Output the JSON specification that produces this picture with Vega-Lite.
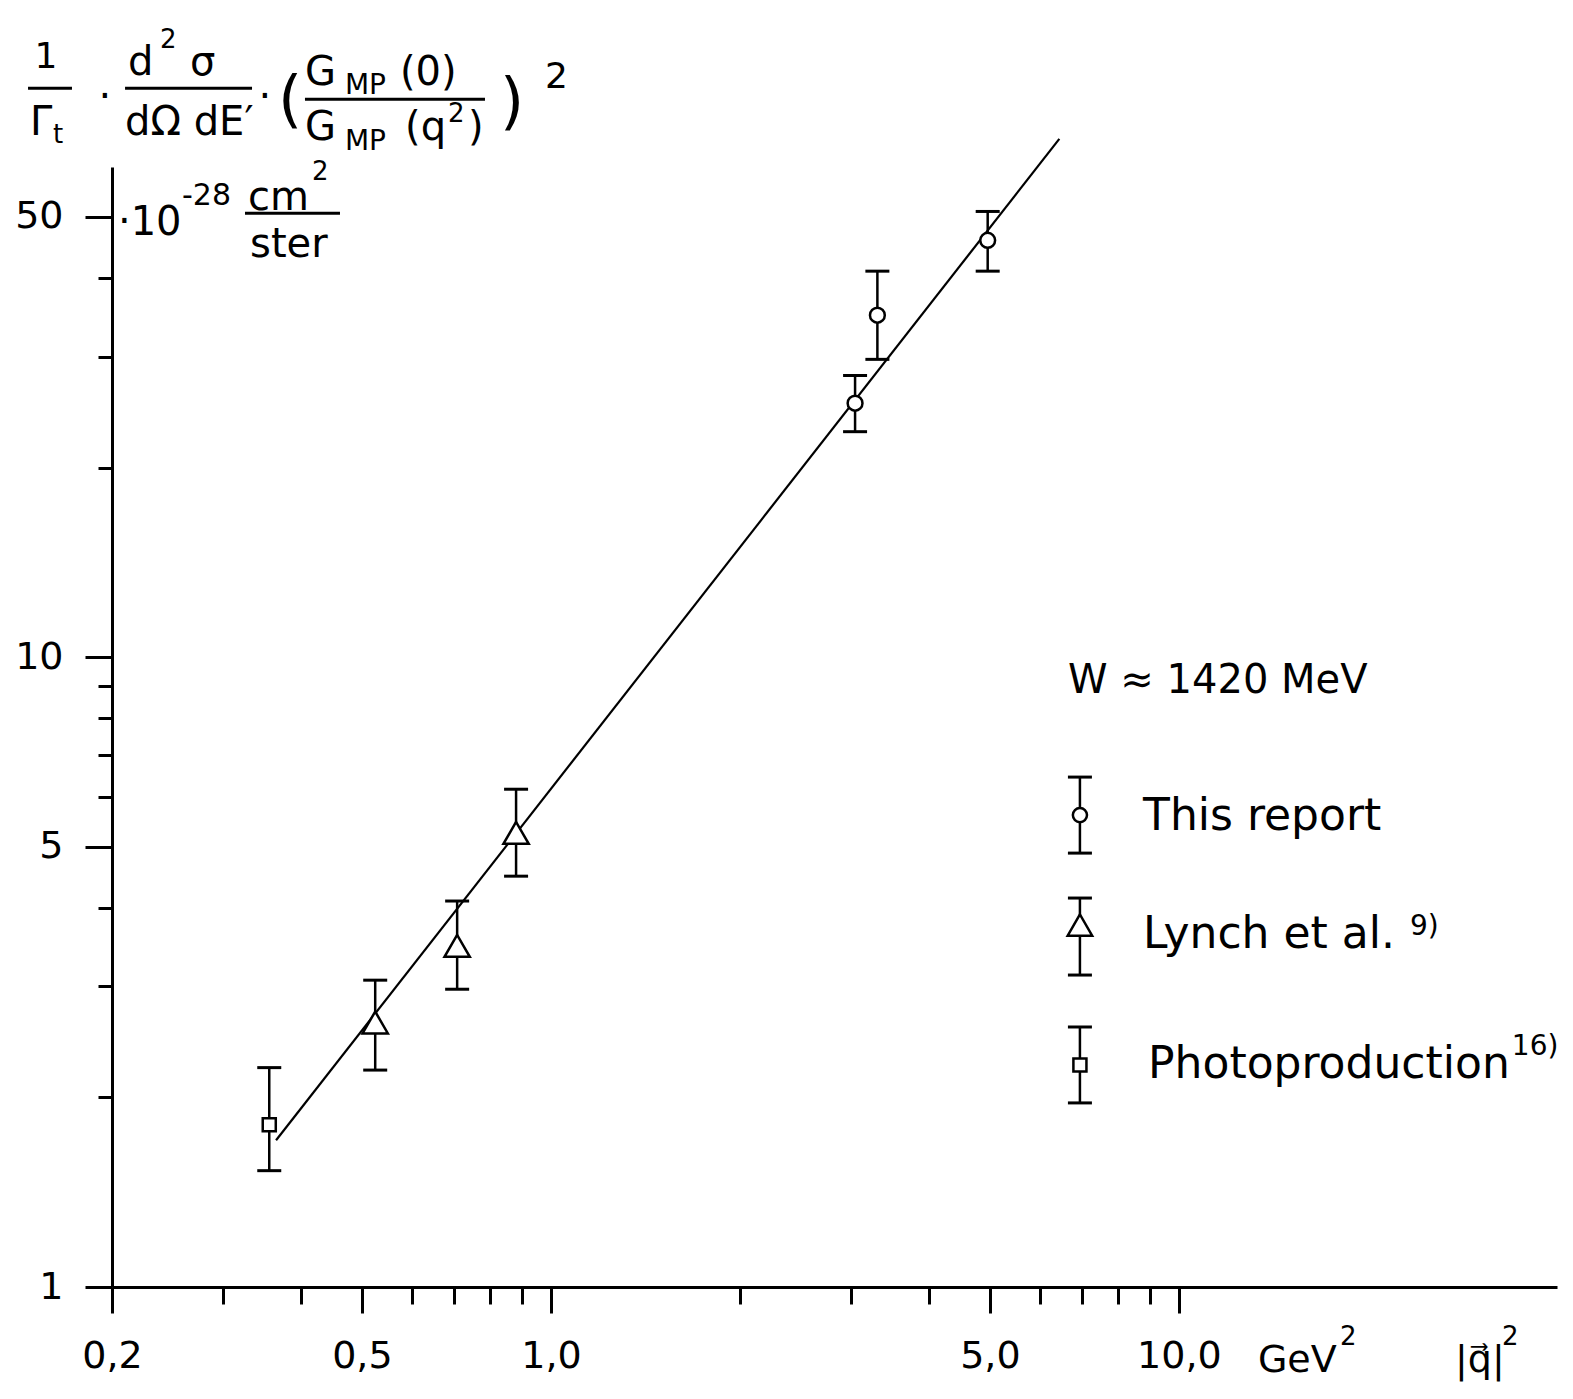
{
  "$schema": "https://vega.github.io/schema/vega-lite/v6.json",
  "width": 1445,
  "height": 1120,
  "autosize": {"type": "none"},
  "padding": {"left": 112, "top": 167, "right": 16, "bottom": 112},
  "background": "white",
  "datasets": {
    "points": [
      {"series": "Photoproduction", "q2": 0.356, "val": 1.81, "lo": 1.53, "hi": 2.23},
      {"series": "Lynch et al.", "q2": 0.525, "val": 2.63, "lo": 2.21, "hi": 3.07},
      {"series": "Lynch et al.", "q2": 0.709, "val": 3.48, "lo": 2.97, "hi": 4.10},
      {"series": "Lynch et al.", "q2": 0.880, "val": 5.26, "lo": 4.49, "hi": 6.17},
      {"series": "This report", "q2": 3.05, "val": 25.3, "lo": 22.8, "hi": 28.0},
      {"series": "This report", "q2": 3.31, "val": 34.9, "lo": 29.7, "hi": 41.0},
      {"series": "This report", "q2": 4.96, "val": 45.9, "lo": 41.0, "hi": 51.0}
    ],
    "fit": [
      {"q2": 0.365, "val": 1.71},
      {"q2": 6.45, "val": 66.5}
    ]
  },
  "data": {"values": [{}]},
  "config": {
    "view": {"stroke": null},
    "font": "DejaVu Sans",
    "axis": {
      "domainColor": "black",
      "domainWidth": 3,
      "tickColor": "black",
      "tickWidth": 3,
      "labelColor": "black",
      "labelFont": "DejaVu Sans",
      "labelFontSize": 38,
      "grid": false
    },
    "text": {"font": "DejaVu Sans", "fontSize": 40, "align": "left", "baseline": "alphabetic", "color": "black"}
  },
  "layer": [
    {
      "data": {"name": "fit"},
      "mark": {"type": "line", "color": "black", "strokeWidth": 2.2, "clip": false},
      "encoding": {
        "x": {
          "field": "q2", "type": "quantitative",
          "scale": {"type": "log", "domain": [0.2, 40], "nice": false},
          "axis": {
            "title": null,
            "values": [0.2, 0.3, 0.4, 0.5, 0.6, 0.7, 0.8, 0.9, 1, 2, 3, 4, 5, 6, 7, 8, 9, 10],
            "labelExpr": "indexof([0.2,0.5,1,5,10], datum.value) >= 0 ? replace(format(datum.value, '.1f'), '.', ',') : ''",
            "tickSize": {"condition": {"test": "indexof([0.2,0.5,1,5,10], datum.value) >= 0", "value": 26}, "value": 17},
            "labelPadding": 24,
            "labelOverlap": false,
            "labelFlush": false
          }
        },
        "y": {
          "field": "val", "type": "quantitative",
          "scale": {"type": "log", "domain": [1, 60], "nice": false},
          "axis": {
            "title": null,
            "values": [1, 2, 3, 4, 5, 6, 7, 8, 9, 10, 20, 30, 40, 50],
            "labelExpr": "indexof([1,5,10,50], datum.value) >= 0 ? toString(datum.value) : ''",
            "tickSize": {"condition": {"test": "indexof([1,5,10,50], datum.value) >= 0", "value": 27}, "value": 14},
            "labelPadding": 22,
            "labelOverlap": false,
            "labelFlush": false
          }
        }
      }
    },
    {
      "data": {"name": "points"},
      "mark": {"type": "rule", "color": "black", "strokeWidth": 2.5},
      "encoding": {
        "x": {"field": "q2", "type": "quantitative"},
        "y": {"field": "lo", "type": "quantitative"},
        "y2": {"field": "hi"}
      }
    },
    {
      "data": {"name": "points"},
      "mark": {"type": "tick", "orient": "horizontal", "color": "black", "size": 24, "thickness": 3, "opacity": 1},
      "encoding": {
        "x": {"field": "q2", "type": "quantitative"},
        "y": {"field": "hi", "type": "quantitative"}
      }
    },
    {
      "data": {"name": "points"},
      "mark": {"type": "tick", "orient": "horizontal", "color": "black", "size": 24, "thickness": 3, "opacity": 1},
      "encoding": {
        "x": {"field": "q2", "type": "quantitative"},
        "y": {"field": "lo", "type": "quantitative"}
      }
    },
    {
      "data": {"name": "points"},
      "transform": [{"filter": "datum.series === 'This report'"}],
      "mark": {"type": "point", "shape": "circle", "size": 220, "filled": true, "fill": "white", "stroke": "black", "strokeWidth": 2.5, "opacity": 1},
      "encoding": {
        "x": {"field": "q2", "type": "quantitative"},
        "y": {"field": "val", "type": "quantitative"}
      }
    },
    {
      "data": {"name": "points"},
      "transform": [{"filter": "datum.series === 'Lynch et al.'"}],
      "mark": {"type": "point", "shape": "triangle-up", "size": 640, "filled": true, "fill": "white", "stroke": "black", "strokeWidth": 2.5, "opacity": 1},
      "encoding": {
        "x": {"field": "q2", "type": "quantitative"},
        "y": {"field": "val", "type": "quantitative"}
      }
    },
    {
      "data": {"name": "points"},
      "transform": [{"filter": "datum.series === 'Photoproduction'"}],
      "mark": {"type": "point", "shape": "square", "size": 170, "filled": true, "fill": "white", "stroke": "black", "strokeWidth": 2.5, "opacity": 1},
      "encoding": {
        "x": {"field": "q2", "type": "quantitative"},
        "y": {"field": "val", "type": "quantitative"}
      }
    },

    {"mark": {"type": "rule", "color": "black", "strokeWidth": 2.5}, "encoding": {"x": {"datum": 6.956}, "y": {"datum": 4.885}, "y2": {"datum": 6.45}}},
    {"mark": {"type": "rule", "color": "black", "strokeWidth": 2.5}, "encoding": {"x": {"datum": 6.956}, "y": {"datum": 3.128}, "y2": {"datum": 4.145}}},
    {"mark": {"type": "rule", "color": "black", "strokeWidth": 2.5}, "encoding": {"x": {"datum": 6.956}, "y": {"datum": 1.960}, "y2": {"datum": 2.587}}},
    {"mark": {"type": "tick", "orient": "horizontal", "color": "black", "size": 24, "thickness": 3, "opacity": 1}, "encoding": {"x": {"datum": 6.956}, "y": {"datum": 6.45}}},
    {"mark": {"type": "tick", "orient": "horizontal", "color": "black", "size": 24, "thickness": 3, "opacity": 1}, "encoding": {"x": {"datum": 6.956}, "y": {"datum": 4.885}}},
    {"mark": {"type": "tick", "orient": "horizontal", "color": "black", "size": 24, "thickness": 3, "opacity": 1}, "encoding": {"x": {"datum": 6.956}, "y": {"datum": 4.145}}},
    {"mark": {"type": "tick", "orient": "horizontal", "color": "black", "size": 24, "thickness": 3, "opacity": 1}, "encoding": {"x": {"datum": 6.956}, "y": {"datum": 3.128}}},
    {"mark": {"type": "tick", "orient": "horizontal", "color": "black", "size": 24, "thickness": 3, "opacity": 1}, "encoding": {"x": {"datum": 6.956}, "y": {"datum": 2.587}}},
    {"mark": {"type": "tick", "orient": "horizontal", "color": "black", "size": 24, "thickness": 3, "opacity": 1}, "encoding": {"x": {"datum": 6.956}, "y": {"datum": 1.960}}},
    {"mark": {"type": "point", "shape": "circle", "size": 200, "filled": true, "fill": "white", "stroke": "black", "strokeWidth": 2.5, "opacity": 1}, "encoding": {"x": {"datum": 6.956}, "y": {"datum": 5.614}}},
    {"mark": {"type": "point", "shape": "triangle-up", "size": 600, "filled": true, "fill": "white", "stroke": "black", "strokeWidth": 2.5, "opacity": 1}, "encoding": {"x": {"datum": 6.956}, "y": {"datum": 3.755}}},
    {"mark": {"type": "point", "shape": "square", "size": 170, "filled": true, "fill": "white", "stroke": "black", "strokeWidth": 2.5, "opacity": 1}, "encoding": {"x": {"datum": 6.956}, "y": {"datum": 2.251}}},

    {"mark": {"type": "text", "text": "W ≈ 1420 MeV", "fontSize": 40}, "encoding": {"x": {"datum": 6.66}, "y": {"datum": 8.767}}},
    {"mark": {"type": "text", "text": "This report", "fontSize": 44}, "encoding": {"x": {"datum": 8.766}, "y": {"datum": 5.314}}},
    {"mark": {"type": "text", "text": "Lynch et al.", "fontSize": 44}, "encoding": {"x": {"datum": 8.766}, "y": {"datum": 3.452}}},
    {"mark": {"type": "text", "text": "9)", "fontSize": 28}, "encoding": {"x": {"datum": 23.33}, "y": {"datum": 3.621}}},
    {"mark": {"type": "text", "text": "Photoproduction", "fontSize": 44}, "encoding": {"x": {"datum": 8.93}, "y": {"datum": 2.147}}},
    {"mark": {"type": "text", "text": "16)", "fontSize": 28}, "encoding": {"x": {"datum": 33.9}, "y": {"datum": 2.335}}},

    {"mark": {"type": "text", "text": "GeV", "fontSize": 38}, "encoding": {"x": {"datum": 13.36}, "y": {"datum": 0.7328}}},
    {"mark": {"type": "text", "text": "2", "fontSize": 26}, "encoding": {"x": {"datum": 18.05}, "y": {"datum": 0.809}}},
    {"mark": {"type": "text", "text": "|q\u20d7|", "fontSize": 38}, "encoding": {"x": {"datum": 27.52}, "y": {"datum": 0.7328}}},
    {"mark": {"type": "text", "text": "2", "fontSize": 26}, "encoding": {"x": {"datum": 32.68}, "y": {"datum": 0.809}}},

    {"mark": {"type": "text", "text": "1", "fontSize": 36, "align": "center"}, "encoding": {"x": {"datum": 0.157}, "y": {"datum": 86.09}}},
    {"mark": {"type": "rule", "color": "black", "strokeWidth": 3}, "encoding": {"x": {"datum": 0.147}, "x2": {"datum": 0.1727}, "y": {"datum": 80.0}}},
    {"mark": {"type": "text", "text": "Γ", "fontSize": 40}, "encoding": {"x": {"datum": 0.1481}, "y": {"datum": 67.38}}},
    {"mark": {"type": "text", "text": "t", "fontSize": 26}, "encoding": {"x": {"datum": 0.1611}, "y": {"datum": 65.44}}},
    {"mark": {"type": "text", "text": "·", "fontSize": 40, "align": "center"}, "encoding": {"x": {"datum": 0.1949}, "y": {"datum": 73.84}}},
    {"mark": {"type": "text", "text": "d", "fontSize": 40}, "encoding": {"x": {"datum": 0.2121}, "y": {"datum": 83.92}}},
    {"mark": {"type": "text", "text": "2", "fontSize": 26}, "encoding": {"x": {"datum": 0.2385}, "y": {"datum": 92.61}}},
    {"mark": {"type": "text", "text": "σ", "fontSize": 40}, "encoding": {"x": {"datum": 0.2662}, "y": {"datum": 83.92}}},
    {"mark": {"type": "rule", "color": "black", "strokeWidth": 3}, "encoding": {"x": {"datum": 0.2098}, "x2": {"datum": 0.3342}, "y": {"datum": 80.0}}},
    {"mark": {"type": "text", "text": "dΩ dE′", "fontSize": 40}, "encoding": {"x": {"datum": 0.2098}, "y": {"datum": 67.38}}},
    {"mark": {"type": "text", "text": "·", "fontSize": 40, "align": "center"}, "encoding": {"x": {"datum": 0.3504}, "y": {"datum": 73.84}}},
    {"mark": {"type": "text", "text": "(", "fontSize": 62}, "encoding": {"x": {"datum": 0.3675}, "y": {"datum": 71.17}}},
    {"mark": {"type": "text", "text": "G", "fontSize": 40}, "encoding": {"x": {"datum": 0.4058}, "y": {"datum": 80.91}}},
    {"mark": {"type": "text", "text": "MP", "fontSize": 28}, "encoding": {"x": {"datum": 0.4699}, "y": {"datum": 78.28}}},
    {"mark": {"type": "text", "text": "(0)", "fontSize": 40}, "encoding": {"x": {"datum": 0.575}, "y": {"datum": 80.91}}},
    {"mark": {"type": "rule", "color": "black", "strokeWidth": 3}, "encoding": {"x": {"datum": 0.4058}, "x2": {"datum": 0.7852}, "y": {"datum": 76.87}}},
    {"mark": {"type": "text", "text": "G", "fontSize": 40}, "encoding": {"x": {"datum": 0.4058}, "y": {"datum": 66.16}}},
    {"mark": {"type": "text", "text": "MP", "fontSize": 28}, "encoding": {"x": {"datum": 0.4699}, "y": {"datum": 63.79}}},
    {"mark": {"type": "text", "text": "(q", "fontSize": 40}, "encoding": {"x": {"datum": 0.5857}, "y": {"datum": 66.16}}},
    {"mark": {"type": "text", "text": "2", "fontSize": 26}, "encoding": {"x": {"datum": 0.6855}, "y": {"datum": 70.66}}},
    {"mark": {"type": "text", "text": ")", "fontSize": 40}, "encoding": {"x": {"datum": 0.7376}, "y": {"datum": 66.16}}},
    {"mark": {"type": "text", "text": ")", "fontSize": 62}, "encoding": {"x": {"datum": 0.8296}, "y": {"datum": 70.66}}},
    {"mark": {"type": "text", "text": "2", "fontSize": 36}, "encoding": {"x": {"datum": 0.9784}, "y": {"datum": 80.0}}},
    {"mark": {"type": "text", "text": "·10", "fontSize": 40}, "encoding": {"x": {"datum": 0.2044}, "y": {"datum": 46.75}}},
    {"mark": {"type": "text", "text": "-28", "fontSize": 30}, "encoding": {"x": {"datum": 0.2585}, "y": {"datum": 52.18}}},
    {"mark": {"type": "text", "text": "cm", "fontSize": 40}, "encoding": {"x": {"datum": 0.3294}, "y": {"datum": 51.24}}},
    {"mark": {"type": "text", "text": "2", "fontSize": 26}, "encoding": {"x": {"datum": 0.4165}, "y": {"datum": 57.16}}},
    {"mark": {"type": "rule", "color": "black", "strokeWidth": 3}, "encoding": {"x": {"datum": 0.3257}, "x2": {"datum": 0.4614}, "y": {"datum": 50.68}}},
    {"mark": {"type": "text", "text": "ster", "fontSize": 40}, "encoding": {"x": {"datum": 0.3318}, "y": {"datum": 43.14}}}
  ]
}
